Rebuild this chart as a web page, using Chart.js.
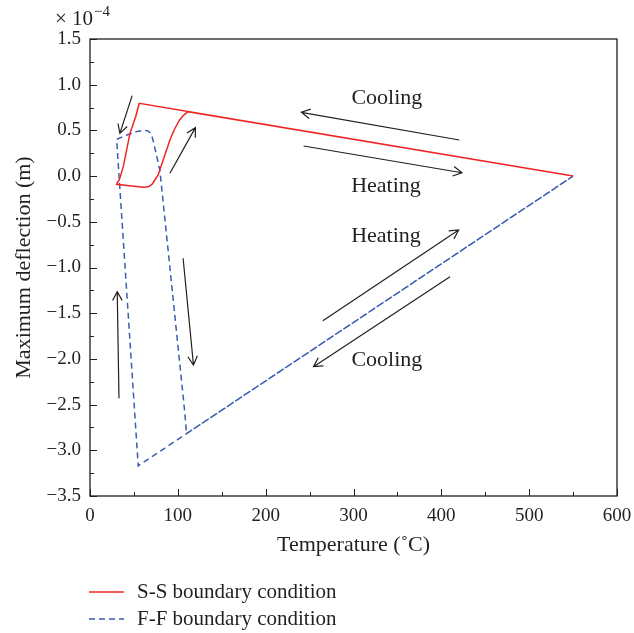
<!DOCTYPE html>
<html>
<head>
<meta charset="utf-8">
<script src="https://cdn.jsdelivr.net/npm/chart.js@4/dist/chart.umd.min.js"></script>
<style>
  html, body { margin: 0; padding: 0; background: #fff; }
  #wrap { width: 634px; height: 633px; position: relative; }
</style>
</head>
<body>
<div id="wrap"><canvas id="chart"></canvas></div>
<script>
'use strict';

// deflection values are in units of 1e-4 m
const ssTemp = [550, 56, 52, 45.5, 37.9, 33.3, 31, 30.3, 50, 62, 67, 71, 74, 77.6, 83.3, 91, 96, 102, 107, 111.7, 550];
const ssDefl = [0, 0.797, 0.65, 0.468, 0.103, -0.043, -0.075, -0.09, -0.11, -0.122, -0.115, -0.085, -0.04, 0.012, 0.176, 0.395, 0.51, 0.614, 0.67, 0.705, 0];

const ffTemp = [550, 54.9, 30.3, 42, 52, 60, 66, 69, 71, 74, 79.5, 88.9, 108, 109.9, 550];
const ffDefl = [0, -3.17, 0.403, 0.45, 0.485, 0.5, 0.495, 0.47, 0.42, 0.3, 0.067, -0.808, -2.595, -2.818, 0];

const seriesNames = ['S-S boundary condition', 'F-F boundary condition'];
const xTicks = [0, 100, 200, 300, 400, 500, 600];
const yTicks = [1.5, 1.0, 0.5, 0.0, -0.5, -1.0, -1.5, -2.0, -2.5, -3.0, -3.5];

// arrows: [x tail, y tail, x head, y head] in data units
const arrows = [
  [420.5, 0.395, 240.6, 0.698],
  [243.2, 0.329, 423.5, 0.037],
  [265.1, -1.582, 419.7, -0.59],
  [409.9, -1.101, 254.5, -2.085],
  [33, -2.431, 31, -1.265],
  [106, -0.899, 117.8, -2.067],
  [48, 0.88, 34, 0.468],
  [91, 0.031, 120, 0.53]
];
const notes = [
  ['Cooling', 338, 0.85],
  ['Heating', 337, -0.11],
  ['Heating', 337, -0.655],
  ['Cooling', 338, -2.01]
];

const FONT = '"Liberation Serif", "DejaVu Serif", serif';
const INK = '#231f20';
const RED = '#f02424';
const BLUE = '#3a5cb0';

function pts(xs, ys){
  let out = [];
  for (let i = 0; i < xs.length; i++) out.push({x: xs[i], y: ys[i]});
  return out;
}

function fmt(v){
  let s = Math.abs(v).toFixed(1);
  return v < 0 ? '\u2212' + s : s;
}

//frame, inner ticks, arrows, notes, exponent and legend
const decorations = {
  id: 'decorations',
  afterDraw(chart){
    const ctx = chart.ctx;
    const a = chart.chartArea;
    const xs = chart.scales.x, ys = chart.scales.y;
    ctx.save();
    ctx.strokeStyle = INK;
    ctx.lineWidth = 1.3;
    ctx.strokeRect(a.left, a.top, a.right - a.left, a.bottom - a.top);

    ctx.lineWidth = 1;
    ctx.beginPath();
    for (let v = 0; v <= 600; v += 50){
      let px = Math.round(xs.getPixelForValue(v)) + 0.5;
      let len = v % 100 === 0 ? 7 : 4;
      ctx.moveTo(px, a.bottom); ctx.lineTo(px, a.bottom - len);
    }
    for (let v = -3.5; v <= 1.5; v += 0.25){
      let py = Math.round(ys.getPixelForValue(v)) + 0.5;
      let len = Math.abs(v * 2 - Math.round(v * 2)) < 1e-6 ? 7 : 4;
      ctx.moveTo(a.left, py); ctx.lineTo(a.left + len, py);
    }
    ctx.stroke();

    // arrows
    ctx.lineWidth = 1.2;
    for (let ar of arrows){
      let x1 = xs.getPixelForValue(ar[0]), y1 = ys.getPixelForValue(ar[1]);
      let x2 = xs.getPixelForValue(ar[2]), y2 = ys.getPixelForValue(ar[3]);
      let ang = Math.atan2(y2 - y1, x2 - x1);
      let h = 10, spread = 0.5;
      ctx.beginPath();
      ctx.moveTo(x1, y1); ctx.lineTo(x2, y2);
      ctx.moveTo(x2 - h * Math.cos(ang - spread), y2 - h * Math.sin(ang - spread));
      ctx.lineTo(x2, y2);
      ctx.lineTo(x2 - h * Math.cos(ang + spread), y2 - h * Math.sin(ang + spread));
      ctx.stroke();
    }

    ctx.fillStyle = INK;
    ctx.font = '22px ' + FONT;
    ctx.textAlign = 'center';
    ctx.textBaseline = 'middle';
    for (let n of notes){
      ctx.fillText(n[0], xs.getPixelForValue(n[1]), ys.getPixelForValue(n[2]));
    }

    // exponent
    ctx.textAlign = 'left';
    ctx.textBaseline = 'alphabetic';
    ctx.font = '21px ' + FONT;
    ctx.fillText('\u00d7 10', 55, 25);
    let w = ctx.measureText('\u00d7 10').width;
    ctx.font = '15px ' + FONT;
    ctx.fillText('\u22124', 55 + w + 1, 16);

    // legend
    const rows = [[RED, [], 592], [BLUE, [6, 4], 619]];
    ctx.font = '21px ' + FONT;
    ctx.textBaseline = 'middle';
    rows.forEach(function(r, i){
      ctx.strokeStyle = r[0];
      ctx.lineWidth = 1.5;
      ctx.setLineDash(r[1]);
      ctx.beginPath();
      ctx.moveTo(89, r[2]); ctx.lineTo(124, r[2]);
      ctx.stroke();
      ctx.setLineDash([]);
      ctx.fillStyle = INK;
      ctx.fillText(seriesNames[i], 137, r[2]);
    });
    ctx.restore();
  }
};

new Chart(document.getElementById('chart'), {
  type: 'scatter',
  data: {
    datasets: [
      {label: seriesNames[0], data: pts(ssTemp, ssDefl), showLine: true, borderColor: RED, borderWidth: 1.5, pointRadius: 0, tension: 0},
      {label: seriesNames[1], data: pts(ffTemp, ffDefl), showLine: true, borderColor: BLUE, borderWidth: 1.5, borderDash: [6, 4], pointRadius: 0, tension: 0}
    ]
  },
  options: {
    responsive: true,
    maintainAspectRatio: false,
    animation: false,
    layout: {padding: {left: 0, right: 17, top: 39, bottom: 0}},
    plugins: {legend: {display: false}, tooltip: {enabled: false}},
    scales: {
      x: {
        type: 'linear', min: 0, max: 600,
        afterBuildTicks: function(s){ s.ticks = xTicks.map(function(v){ return {value: v}; }); },
        afterFit: function(s){ s.height = 137; s.paddingLeft = 0; s.paddingRight = 0; },
        grid: {display: false, drawTicks: false},
        border: {display: false},
        ticks: {padding: 9, color: INK, font: {family: FONT, size: 19}, maxRotation: 0},
        title: {display: true, text: 'Temperature (\u02daC)', color: INK, font: {family: FONT, size: 22}, padding: {top: 0, bottom: 75}}
      },
      y: {
        type: 'linear', min: -3.5, max: 1.5,
        afterBuildTicks: function(s){ s.ticks = yTicks.map(function(v){ return {value: v}; }); },
        afterFit: function(s){ s.width = 90; s.paddingTop = 0; s.paddingBottom = 0; },
        grid: {display: false, drawTicks: false},
        border: {display: false},
        ticks: {padding: 9, color: INK, font: {family: FONT, size: 19}, callback: function(v){ return fmt(v); }},
        title: {display: true, text: 'Maximum deflection (m)', color: INK, font: {family: FONT, size: 22}, padding: {top: 11, bottom: 0}}
      }
    }
  },
  plugins: [decorations]
});
</script>
</body>
</html>
